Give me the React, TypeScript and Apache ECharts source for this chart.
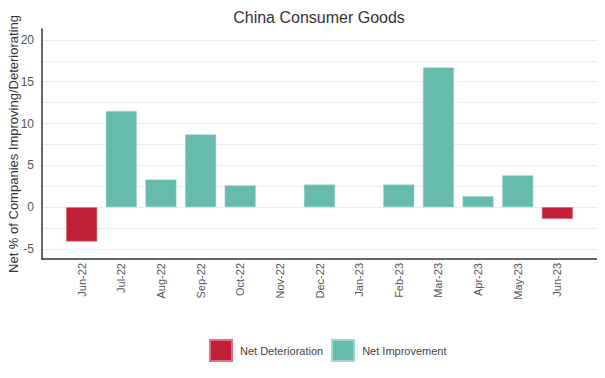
import React, { useEffect, useRef } from "react";
import * as echarts from "echarts";

const categories = ["", "Jun-22", "Jul-22", "Aug-22", "Sep-22", "Oct-22", "Nov-22", "Dec-22", "Jan-23", "Feb-23", "Mar-23", "Apr-23", "May-23", "Jun-23", " "];
const netDeterioration: (number | null)[] = [null, -4.1, null, null, null, null, null, null, null, null, null, null, null, -1.4, null];
const netImprovement: (number | null)[] = [null, null, 11.5, 3.3, 8.7, 2.6, null, 2.7, null, 2.7, 16.7, 1.3, 3.8, null, null];
const yLabelValues = [-5, 0, 5, 10, 15, 20];
const yGridValues = [-5, -2.5, 0, 2.5, 5, 7.5, 10, 12.5, 15, 17.5, 20];

const FONT = "Liberation Sans, Arial, sans-serif";

export default function App() {
  const ref = useRef<HTMLDivElement>(null);
  useEffect(() => {
    const chart = echarts.init(ref.current!, null, { renderer: "svg" });
    chart.setOption({
      animation: false,
      textStyle: { fontFamily: FONT },
      title: {
        text: "China Consumer Goods",
        left: 314,
        textAlign: "center",
        top: 4,
        textStyle: { fontFamily: FONT, fontSize: 16, fontWeight: "normal", color: "#333" },
      },
      legend: {
        bottom: 11,
        left: 204,
        icon: "rect",
        itemWidth: 22,
        itemHeight: 21,
        itemGap: 8,
        textStyle: { fontFamily: FONT, fontSize: 11, color: "#444", padding: [0, 0, 0, 3] },
        data: ["Net Deterioration", "Net Improvement"],
      },
      grid: { left: 42, right: 8, top: 29, bottom: 119, containLabel: false, outerBoundsMode: "none" },
      xAxis: {
        type: "category",
        data: categories,
        boundaryGap: false,
        axisLine: { onZero: false, lineStyle: { color: "#333", width: 1.5 } },
        axisTick: { show: false },
        axisLabel: { rotate: 90, fontSize: 11, color: "#555", fontFamily: FONT, interval: 0, margin: 4 },
      },
      yAxis: {
        type: "value",
        min: -6.2,
        max: 21.3,
        name: "Net % of Companies Improving/Deteriorating",
        nameLocation: "middle",
        nameGap: 22,
        nameMoveOverlap: false,
        nameTextStyle: { fontFamily: FONT, fontSize: 13, color: "#333" },
        axisLine: { show: true, lineStyle: { color: "#333", width: 1.5 } },
        axisTick: { show: false, customValues: yGridValues },
        axisLabel: { customValues: yLabelValues, fontSize: 12, color: "#555", fontFamily: FONT, margin: 8 },
        splitLine: { show: true, lineStyle: { color: "#ececec", width: 1 } },
      },
      series: [
        {
          name: "Net Deterioration",
          type: "bar",
          stack: "a",
          data: netDeterioration,
          barWidth: 31,
          itemStyle: { color: "#c01f38", borderColor: "#e0707f", borderWidth: 0.5 },
        },
        {
          name: "Net Improvement",
          type: "bar",
          stack: "a",
          data: netImprovement,
          barWidth: 31,
          itemStyle: { color: "#66bbae", borderColor: "#9fd6cc", borderWidth: 0.5 },
        },
      ],
    });
    return () => chart.dispose();
  }, []);
  return <div ref={ref} style={{ width: 605, height: 378, margin: -8 }} />;
}
